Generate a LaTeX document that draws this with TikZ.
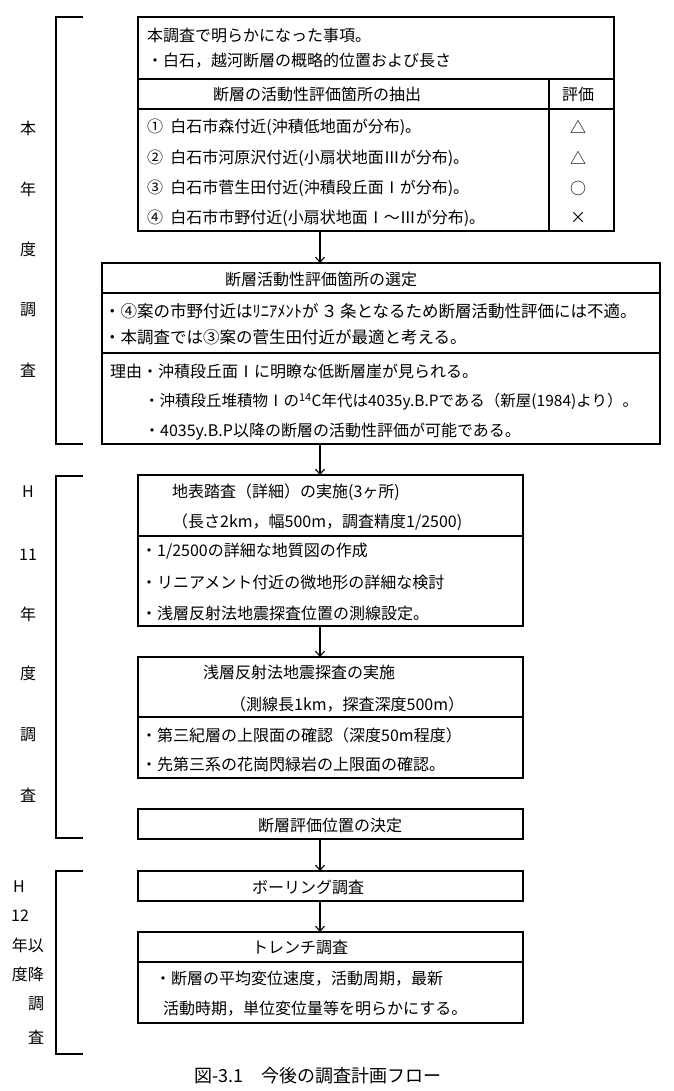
\documentclass[tikz,border=0pt]{standalone}
\usepackage{fontspec}
\setmainfont{Noto Sans CJK JP}
\usetikzlibrary{arrows.meta}
\begin{document}
\begin{tikzpicture}[x=1pt,y=-1pt,
  box/.style={draw, line width=1.1pt, rectangle, inner sep=0pt, outer sep=0pt},
  sep/.style={line width=1.1pt},
  tx/.style={inner sep=0pt, anchor=west, font=\fontsize{16}{19}\selectfont},
  tc/.style={inner sep=0pt, anchor=center, font=\fontsize{16}{19}\selectfont},
  lab/.style={inner sep=0pt, anchor=center, font=\fontsize{16}{19}\selectfont},
  brk/.style={line width=1.1pt},
  arr/.style={line width=1.1pt, -{Straight Barb[length=5pt,width=9pt]}}
]
\useasboundingbox[fill=white] (0,0) rectangle (673,1091);
\coordinate (ax) at (320,0);

% ---------- brackets and side labels ----------
\draw[brk] (83,17) -- (56,17) -- (56,444) -- (83,444);
\node[lab] (l1a) at (28,128) {本};
\node[lab] (l1b) at (28,189) {年};
\node[lab] (l1c) at (28,249) {度};
\node[lab] (l1d) at (28,310) {調};
\node[lab] (l1e) at (28,370) {査};

\draw[brk] (83,476) -- (56,476) -- (56,838) -- (83,838);
\node[lab] (l2a) at (28,492) {H};
\node[lab] (l2b) at (28,555) {11};
\node[lab] (l2c) at (28,614) {年};
\node[lab] (l2d) at (28,673) {度};
\node[lab] (l2e) at (28,735) {調};
\node[lab] (l2f) at (28,795) {査};

\draw[brk] (83,871) -- (56,871) -- (56,1054) -- (83,1054);
\node[lab] (l3a) at (19,887) {H};
\node[lab] (l3b) at (20,916) {12};
\node[lab] (l3c) at (28,945) {年以};
\node[lab] (l3d) at (28,974) {度降};
\node[lab] (l3e) at (36,1004) {調};
\node[lab] (l3f) at (36,1037) {査};

% ---------- box 1 ----------
\node[box, minimum width=476pt, minimum height=214pt] (b1) at (376,124) {};
\draw[sep] ([yshift=-62pt]b1.north west) -- ([yshift=-62pt]b1.north east);
\draw[sep] ([yshift=-92pt]b1.north west) -- ([yshift=-92pt]b1.north east);
\draw[sep] ([xshift=-65pt,yshift=-62pt]b1.north east) -- ([xshift=-65pt]b1.south east);
\node[tx] (t11) at (147,35) {本調査で明らかになった事項。};
\node[tx] (t12) at (147,61) {・白石，越河断層の概略的位置および長さ};
\node[tc] (t13) at (317,94) {断層の活動性評価箇所の抽出};
\node[tc] (t14) at (578,94) {評価};
\node[tx] (t15) at (147,127) {①\hspace{0.45em}白石市森付近(沖積低地面が分布)。};
\node[tx] (t16) at (147,158) {②\hspace{0.45em}白石市河原沢付近(小扇状地面Ⅲが分布)。};
\node[tx] (t17) at (147,188) {③\hspace{0.45em}白石市菅生田付近(沖積段丘面Ⅰが分布)。};
\node[tx] (t18) at (147,218) {④\hspace{0.45em}白石市市野付近(小扇状地面Ⅰ～Ⅲが分布)。};
\node[tc] (s1) at (578,127) {△};
\node[tc] (s2) at (578,158) {△};
\node[tc] (s3) at (578,188) {○};
\node[tc] (s4) at (578,218) {×};

% ---------- box 2 ----------
\node[box, minimum width=558pt, minimum height=181pt] (b2) at (381,353.5) {};
\draw[sep] ([yshift=-30pt]b2.north west) -- ([yshift=-30pt]b2.north east);
\draw[sep] ([yshift=-90pt]b2.north west) -- ([yshift=-90pt]b2.north east);
\node[tc] (t21) at (321,279) {断層活動性評価箇所の選定};
\node[tx, font=\fontsize{16.5}{19}\selectfont] (t22) at (104,311) {・④案の市野付近はﾘﾆｱﾒﾝﾄが\hspace{0.15em}３\hspace{0.15em}条となるため断層活動性評価には不適。};
\node[tx, font=\fontsize{16.5}{19}\selectfont] (t23) at (104,337) {・本調査では③案の菅生田付近が最適と考える。};
\node[tx] (t24) at (110,371) {理由・沖積段丘面Ⅰに明瞭な低断層崖が見られる。};
\node[tx, font=\fontsize{15.5}{19}\selectfont] (t25) at (144,402) {・沖積段丘堆積物Ⅰの\textsuperscript{14}C年代は4035y.B.Pである（新屋(1984)より）。};
\node[tx] (t26) at (144,432) {・4035y.B.P以降の断層の活動性評価が可能である。};

% ---------- box 3 ----------
\node[box, minimum width=385pt, minimum height=151pt] (b3) at (330.5,550.5) {};
\draw[sep] ([yshift=-61pt]b3.north west) -- ([yshift=-61pt]b3.north east);
\node[tx] (t31) at (172,492) {地表踏査（詳細）の実施(3ヶ所)};
\node[tx] (t32) at (172,522) {（長さ2km，幅500m，調査精度1/2500)};
\node[tx] (t33) at (141,551) {・1/2500の詳細な地質図の作成};
\node[tx] (t34) at (141,582) {・リニアメント付近の微地形の詳細な検討};
\node[tx] (t35) at (141,613) {・浅層反射法地震探査位置の測線設定。};

% ---------- box 4 ----------
\node[box, minimum width=385pt, minimum height=121pt] (b4) at (330.5,717.5) {};
\draw[sep] ([yshift=-60pt]b4.north west) -- ([yshift=-60pt]b4.north east);
\node[tx] (t41) at (203,672) {浅層反射法地震探査の実施};
\node[tx] (t42) at (230,704) {（測線長1km，探査深度500m）};
\node[tx] (t43) at (141,735) {・第三紀層の上限面の確認（深度50m程度）};
\node[tx] (t44) at (141,764) {・先第三系の花崗閃緑岩の上限面の確認。};

% ---------- box 5 ----------
\node[box, minimum width=385pt, minimum height=30pt] (b5) at (330.5,824) {};
\node[tc] (t51) at (330,825) {断層評価位置の決定};

% ---------- box 6 ----------
\node[box, minimum width=385pt, minimum height=30pt] (b6) at (330.5,886) {};
\node[tc] (t61) at (308,887) {ボーリング調査};

% ---------- box 7 ----------
\node[box, minimum width=385pt, minimum height=91pt] (b7) at (330.5,977.5) {};
\draw[sep] ([yshift=-30pt]b7.north west) -- ([yshift=-30pt]b7.north east);
\node[tc] (t71) at (300,947) {トレンチ調査};
\node[tx] (t72) at (155,979) {・断層の平均変位速度，活動周期，最新};
\node[tx] (t73) at (163,1009) {活動時期，単位変位量等を明らかにする。};

% ---------- arrows ----------
\draw[arr] (b1.south -| ax) -- (b2.north -| ax);
\draw[arr] (b2.south -| ax) -- (b3.north -| ax);
\draw[arr] (b3.south -| ax) -- (b4.north -| ax);
\draw[arr] (b5.south -| ax) -- (b6.north -| ax);
\draw[arr] (b6.south -| ax) -- (b7.north -| ax);

% ---------- caption ----------
\node[tc, font=\fontsize{18}{21}\selectfont] (cap) at (318,1076) {図-3.1\hspace{1em}今後の調査計画フロー};
\end{tikzpicture}
\end{document}
